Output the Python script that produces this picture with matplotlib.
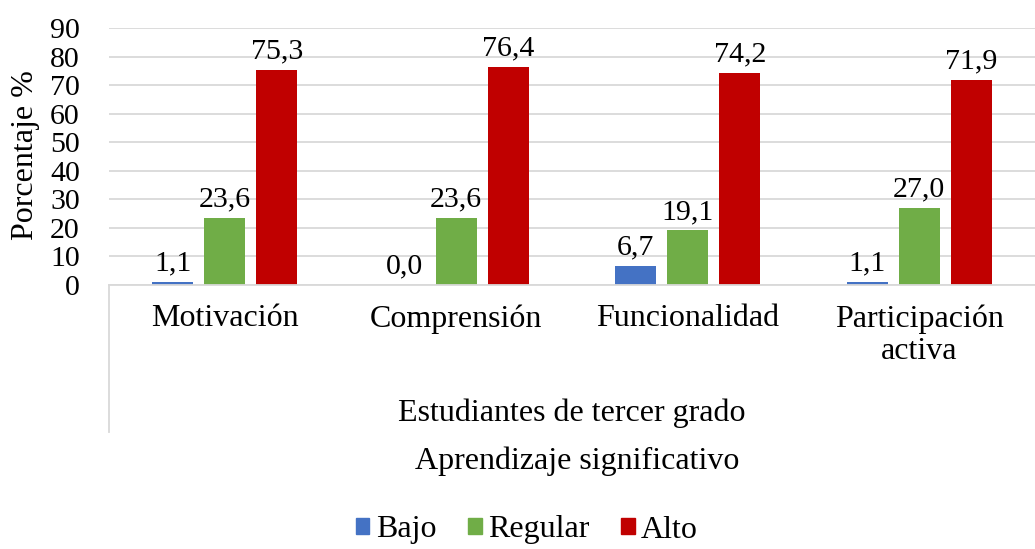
import matplotlib
matplotlib.use("Agg")
import matplotlib.pyplot as plt
import numpy as np
from matplotlib.lines import Line2D

plt.rcParams['font.family'] = ['Liberation Serif', 'DejaVu Serif']

categories = ["Motivación", "Comprensión", "Funcionalidad", "Participación\nactiva"]
series_names = ["Bajo", "Regular", "Alto"]
bajo = [1.1, 0.0, 6.7, 1.1]
regular = [23.6, 23.6, 19.1, 27.0]
alto = [75.3, 76.4, 74.2, 71.9]
colors = ["#4472C4", "#70AD47", "#C00000"]
yticks = [0, 10, 20, 30, 40, 50, 60, 70, 80, 90]
xlabel1 = "Estudiantes de tercer grado"
xlabel2 = "Aprendizaje significativo"
ylabel = "Porcentaje %"

W, H = 1035, 549
fig = plt.figure(figsize=(W / 100, H / 100), dpi=100)
left, right, top, bottom = 109, 1035, 28, 285
ax = fig.add_axes([left / W, 1 - bottom / H, (right - left) / W, (bottom - top) / H])

x = np.arange(len(categories))
bw = 0.177
step = 0.225
fs = 21.5
fs2 = 23
for i, (vals, c, name) in enumerate(zip([bajo, regular, alto], colors, series_names)):
    pos = x + (i - 1) * step
    ax.bar(pos, vals, width=bw, color=c, label=name, zorder=3)
    for p, v in zip(pos, vals):
        ax.annotate(f"{v:.1f}".replace(".", ","), (p, v), xytext=(0, 4),
                    textcoords="offset points", ha="center", va="bottom",
                    fontsize=fs, color="black", zorder=4)

ax.set_xlim(-0.5, len(categories) - 0.5)
ax.set_ylim(0, 90)
ax.set_yticks(yticks)
ax.set_yticklabels([str(t) for t in yticks], fontsize=fs)
ax.tick_params(axis='y', length=0, pad=21)
ax.tick_params(axis='x', length=0)
ax.set_xticks([])
ax.grid(axis='y', color="#D9D9D9", linewidth=1.3, zorder=0)
for s in ["top", "right", "left"]:
    ax.spines[s].set_visible(False)
ax.spines["bottom"].set_color("#D9D9D9")
ax.spines["bottom"].set_linewidth(1.3)
ax.spines["bottom"].set_zorder(5)

# category labels
trans = ax.get_xaxis_transform()
for xi, cat in zip(x, categories):
    ax.text(xi, -(304 - bottom) / (bottom - top), cat, transform=trans,
            ha="center", va="top", fontsize=fs2, linespacing=1.16)

# left border of multi-level axis
fig.add_artist(Line2D([left / W, left / W], [1 - bottom / H, 1 - 432 / H],
                      color="#D9D9D9", linewidth=1.3))

fig.text((left + right) / 2 / W, 1 - 413 / H, xlabel1, ha="center", va="center", fontsize=fs2)
fig.text(577 / W, 1 - 461 / H, xlabel2, ha="center", va="center", fontsize=fs2)
fig.text(26 / W, 1 - 155 / H, ylabel, rotation=90, ha="center", va="center", fontsize=fs2)

handles = [plt.Rectangle((0, 0), 1, 1, color=c) for c in colors]
fig.legend(handles, series_names, loc="center", bbox_to_anchor=(527 / W, 1 - 530 / H),
           ncol=3, frameon=False, fontsize=fs2, handlelength=0.42, handleheight=0.42,
           handletextpad=0.2, columnspacing=1.0)

fig.savefig("out.png", dpi=100)
